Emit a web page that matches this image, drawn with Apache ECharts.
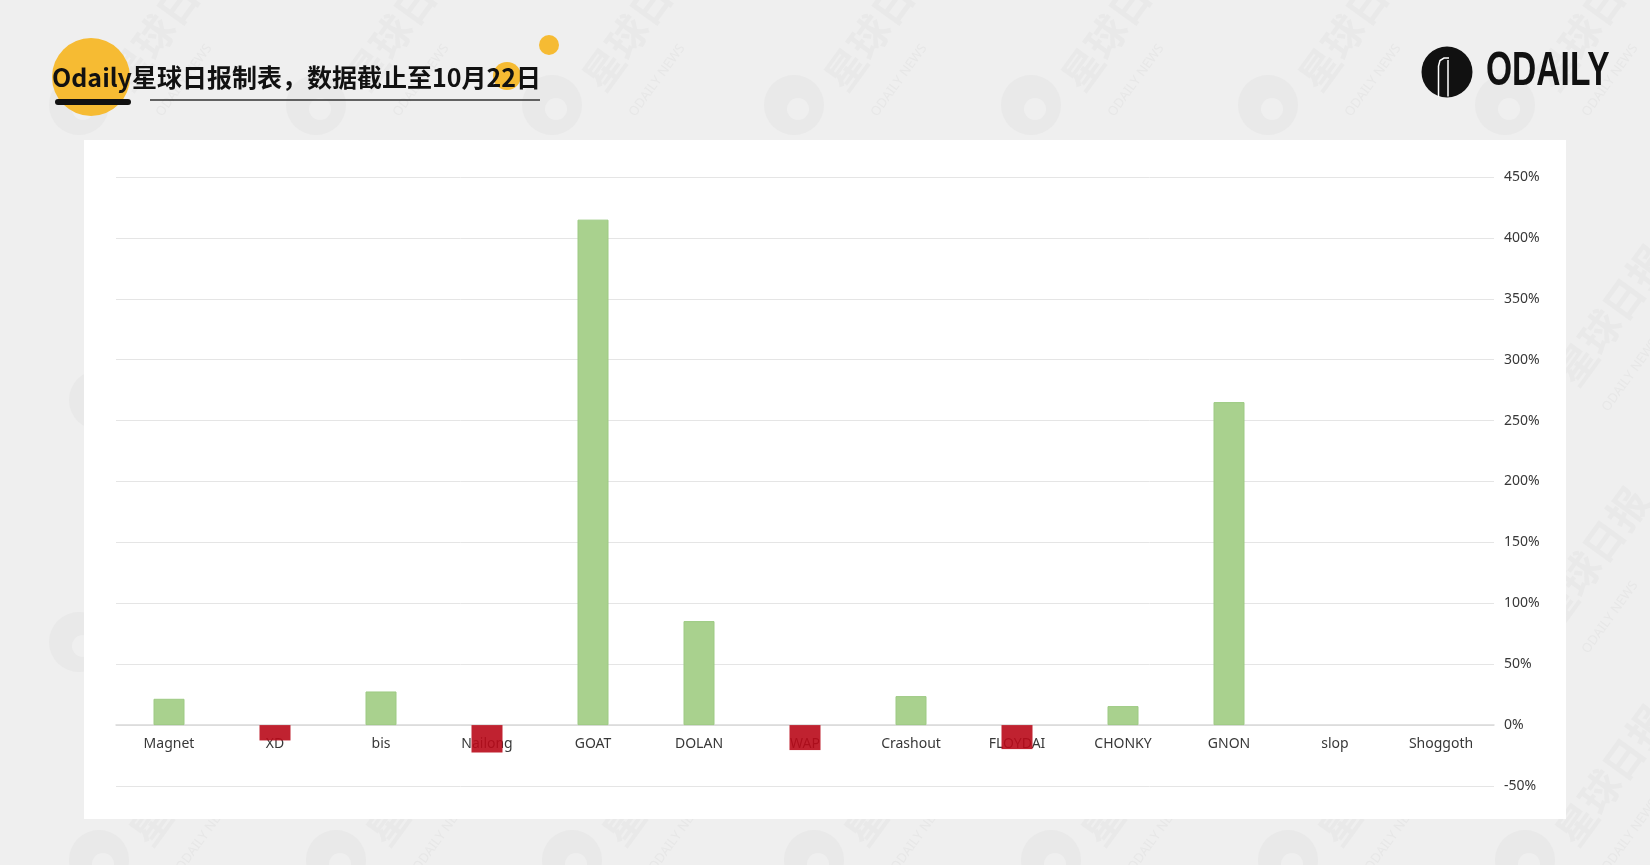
<!DOCTYPE html>
<html>
<head>
<meta charset="utf-8">
<script src="https://cdn.jsdelivr.net/npm/echarts@6/dist/echarts.min.js"></script>
<style>
html,body{margin:0;padding:0;background:#efefef;}
#c{width:1650px;height:865px;}
</style>
</head>
<body>
<div id="c"></div>
<script>
// ---- data ----
const categories = ['Magnet', 'XD', 'bis', 'Nailong', 'GOAT', 'DOLAN', 'WAP', 'Crashout', 'FLOYDAI', 'CHONKY', 'GNON', 'slop', 'Shoggoth'];
const changes = [21.6, -12.6, 27.6, -22.5, 415, 85.4, -20.5, 23.8, -19.7, 15.6, 265.2, null, null];
const yMin = -50, yMax = 450, yStep = 50;
const titleText = 'Odaily星球日报制表，数据截止至10月22日';
const logoText = 'ODAILY';

const chart = echarts.init(document.getElementById('c'), null, {renderer: 'canvas'});

const gridTop = 177, gridBottom = 79, chartH = 865;
const gridH = chartH - gridTop - gridBottom;
// move the category axis up to the zero line
const zeroOffset = -gridH * (0 - yMin) / (yMax - yMin);

const upStyle = {color: '#a9d18e', borderColor: '#9dca83', borderWidth: 1};
const downStyle = {color: 'rgba(185,10,25,0.9)', borderWidth: 0};
const barData = changes.map(v => ({value: v, itemStyle: (v != null && v < 0) ? downStyle : upStyle}));

// decorative watermark tiles
const wm = [];
const wmCols = [79, 316, 552, 794, 1031, 1268, 1505];
const wmRows = [105, 400, 642, 860];
wmRows.forEach((y, ri) => {
  wmCols.forEach((x) => {
    const ox = x + (ri % 2) * 20;
    wm.push({type: 'circle', z: -50, shape: {cx: ox, cy: y, r: 30}, style: {fill: '#e9e9e9'}});
    wm.push({type: 'circle', z: -49, shape: {cx: ox + 4, cy: y + 4, r: 11}, style: {fill: '#efefef'}});
    wm.push({type: 'text', z: -50, x: ox + 40, y: y - 20, rotation: Math.PI * 0.3,
      style: {text: '星球日报', font: 'bold 40px "Noto Sans CJK SC"', fill: '#e9e9e9', verticalAlign: 'middle'}});
    wm.push({type: 'text', z: -50, x: ox + 80, y: y + 10, rotation: Math.PI * 0.3,
      style: {text: 'ODAILY NEWS', font: '13px "Noto Sans"', fill: '#e7e7e7', verticalAlign: 'middle'}});
  });
});

const option = {
  backgroundColor: '#efefef',
  animation: false,
  grid: {left: 116, right: 156, top: gridTop, bottom: gridBottom, containLabel: false},
  xAxis: {
    type: 'category',
    data: categories,
    offset: zeroOffset,
    axisTick: {show: false},
    axisLine: {show: true, onZero: false, lineStyle: {color: '#d9d9d9', width: 1.5}},
    axisLabel: {color: '#383838', fontSize: 14, fontFamily: 'Noto Sans', margin: 12, interval: 0},
    z: 1
  },
  yAxis: {
    type: 'value',
    position: 'right',
    min: yMin, max: yMax, interval: yStep,
    axisLine: {show: false},
    axisTick: {show: false},
    splitLine: {lineStyle: {color: '#e5e5e5', width: 1}},
    axisLabel: {color: '#383838', fontSize: 14, fontFamily: 'Noto Sans', margin: 10, formatter: '{value}%'}
  },
  series: [{
    type: 'bar',
    data: barData,
    barWidth: 31,
    z: 3
  }],
  graphic: wm.concat([
    {type: 'rect', z: -10, shape: {x: 84, y: 140, width: 1482, height: 679}, style: {fill: '#ffffff'}},
    {type: 'circle', z: 5, shape: {cx: 91, cy: 77, r: 39}, style: {fill: '#f6bb33'}},
    {type: 'circle', z: 5, shape: {cx: 507, cy: 76, r: 14}, style: {fill: '#f6bb33'}},
    {type: 'circle', z: 5, shape: {cx: 549, cy: 45, r: 10}, style: {fill: '#f6bb33'}},
    {type: 'rect', z: 6, shape: {x: 55, y: 99, width: 76, height: 6, r: 3}, style: {fill: '#111111'}},
    {type: 'line', z: 6, shape: {x1: 150, y1: 100, x2: 540, y2: 100}, style: {stroke: '#333333', lineWidth: 1.5}},
    {type: 'text', z: 10, x: 52, y: 77, style: {text: titleText, font: 'bold 25px "Noto Sans CJK SC"', fill: '#111111', verticalAlign: 'middle'}},
    {type: 'circle', z: 10, shape: {cx: 1447, cy: 72, r: 25.5}, style: {fill: '#111111'}},
    {type: 'polyline', z: 11, shape: {points: [[1438.5, 97], [1438.5, 66], [1440, 60.5], [1444, 58], [1449, 58]]}, style: {stroke: '#ffffff', lineWidth: 1.5, fill: null}},
    {type: 'line', z: 11, shape: {x1: 1448, y1: 60, x2: 1448, y2: 96.5}, style: {stroke: '#ffffff', lineWidth: 1.5}},
    {type: 'text', z: 10, x: 1486, y: 71, scaleX: 0.685, style: {text: logoText, font: 'bold 49px "Liberation Sans"', fill: '#111111', verticalAlign: 'middle'}}
  ])
};
chart.setOption(option);
</script>
</body>
</html>
